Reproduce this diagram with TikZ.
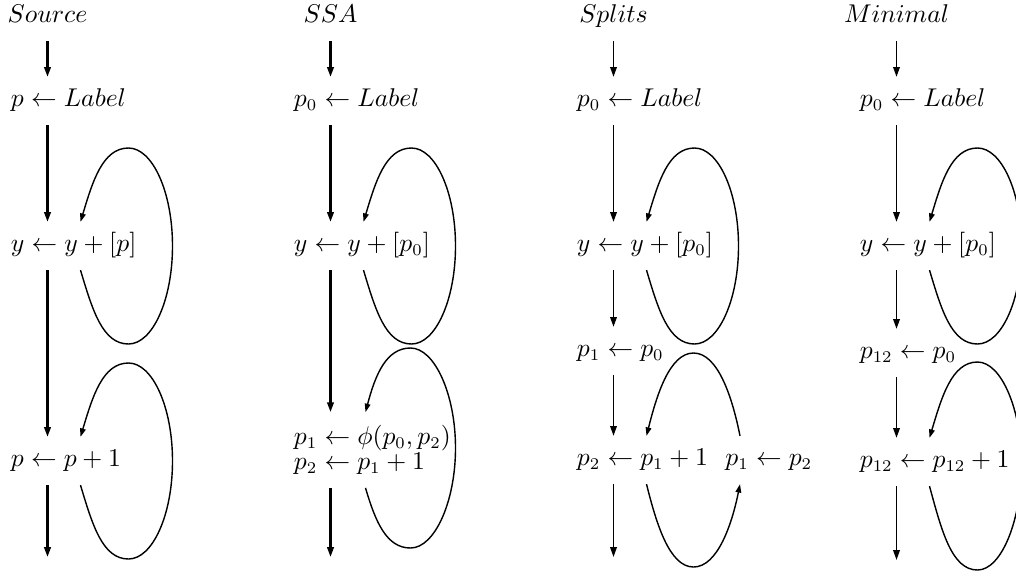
\documentclass[tikz,border=0pt]{standalone}
\usepackage{amsmath}
\usetikzlibrary{positioning,calc,arrows.meta}

\begin{document}
\begin{tikzpicture}[x=0.015cm,y=0.015cm]
        \tikzset{
            stmt/.style={anchor=west, inner sep=0pt, outer ysep=5.8pt, text height=7pt, text depth=2pt, font=\fontsize{10.5}{12.6}\selectfont},
            block/.style={anchor=west, inner sep=0pt, outer ysep=5.8pt, align=left, font=\fontsize{10.5}{12.6}\selectfont},
            title/.style={inner sep=0pt, outer ysep=5.8pt, text height=7pt, text depth=2pt, font=\fontsize{10.5}{12.6}\selectfont},
            flow/.style={-{Triangle[length=4.2pt,width=2.8pt]}, line width=0.9pt},
            thinflow/.style={flow, line width=0.7pt},
            back/.style={-{Triangle[length=3.6pt,width=2.4pt]}, line width=0.6pt}
        }
        \useasboundingbox (0,0) rectangle (1016,-571);
        % Source
        \node[title] (s0) at (47.5,-17) {$Source$};
        \node[stmt] (s1) at (10.5,-101) {$p \leftarrow Label$};
        \node[stmt] (s2) at (10.5,-246) {$y \leftarrow y+[p]$};
        \node[stmt] (s3) at (10.5,-461) {$p \leftarrow p+1$};
        \coordinate (s4) at (47.5,-557);
        \draw[flow] (s0.south) -- (s1.north -| s0);
        \draw[flow] (s1.south -| s0) -- (s2.north -| s0);
        \draw[flow] (s2.south -| s0) -- (s3.north -| s0);
        \draw[flow] (s3.south -| s0) -- (s4);
        \draw[back] ($(s2.south -| s0)+(33,0)$) .. controls +(12,-40) and +(-26,0) .. ($(s2.west -| s0)+(81,-98)$) .. controls +(24,0) and +(0,-54) .. ($(s2.west -| s0)+(125,0)$) .. controls +(0,54) and +(24,0) .. ($(s2.west -| s0)+(81,98)$) .. controls +(-26,0) and +(12,40) .. ($(s2.north -| s0)+(33,0)$);
        \draw[back] ($(s3.south -| s0)+(33,0)$) .. controls +(12,-40) and +(-26,0) .. ($(s3.west -| s0)+(81,-98)$) .. controls +(24,0) and +(0,-54) .. ($(s3.west -| s0)+(125,0)$) .. controls +(0,54) and +(24,0) .. ($(s3.west -| s0)+(81,98)$) .. controls +(-26,0) and +(12,40) .. ($(s3.north -| s0)+(33,0)$);
        % SSA
        \node[title] (a0) at (330.5,-17) {$SSA$};
        \node[stmt] (a1) at (293.5,-101) {$p_0 \leftarrow Label$};
        \node[stmt] (a2) at (293.5,-246) {$y \leftarrow y+[p_0]$};
        \node[block] (a3) at (293.5,-450) {$p_1 \leftarrow \phi(p_0,p_2)$\\[-2.2pt]$p_2 \leftarrow p_1+1$};
        \coordinate (a4) at (330.5,-557);
        \draw[flow] (a0.south) -- (a1.north -| a0);
        \draw[flow] (a1.south -| a0) -- (a2.north -| a0);
        \draw[flow] (a2.south -| a0) -- (a3.north -| a0);
        \draw[flow] (a3.south -| a0) -- (a4);
        \draw[back] ($(a2.south -| a0)+(33,0)$) .. controls +(12,-40) and +(-26,0) .. ($(a2.west -| a0)+(81,-98)$) .. controls +(24,0) and +(0,-54) .. ($(a2.west -| a0)+(125,0)$) .. controls +(0,54) and +(24,0) .. ($(a2.west -| a0)+(81,98)$) .. controls +(-26,0) and +(12,40) .. ($(a2.north -| a0)+(33,0)$);
        \draw[back] ($(a3.south -| a0)+(35,0)$) .. controls +(10,-34) and +(-24,0) .. ($(a3.west -| a0)+(80,-98)$) .. controls +(24,0) and +(0,-54) .. ($(a3.west -| a0)+(125,2)$) .. controls +(0,54) and +(24,0) .. ($(a3.west -| a0)+(80,102)$) .. controls +(-24,0) and +(10,38) .. ($(a3.north -| a0)+(35,0)$);
        % Splits
        \node[title] (t0) at (613.5,-17) {$Splits$};
        \node[stmt] (t1) at (576.5,-101) {$p_0 \leftarrow Label$};
        \node[stmt] (t2) at (576.5,-246) {$y \leftarrow y+[p_0]$};
        \node[stmt] (t3) at (576.5,-351) {$p_1 \leftarrow p_0$};
        \node[stmt] (t4) at (576.5,-460) {$p_2 \leftarrow p_1+1$};
        \node[stmt] (q) at (725,-460) {$p_1 \leftarrow p_2$};
        \coordinate (t5) at (613.5,-557);
        \draw[thinflow] (t0.south) -- (t1.north -| t0);
        \draw[thinflow] (t1.south -| t0) -- (t2.north -| t0);
        \draw[thinflow] (t2.south -| t0) -- (t3.north -| t0);
        \draw[thinflow] (t3.south -| t0) -- (t4.north -| t0);
        \draw[thinflow] (t4.south -| t0) -- (t5);
        \draw[back] ($(t2.south -| t0)+(33,0)$) .. controls +(12,-40) and +(-26,0) .. ($(t2.west -| t0)+(81,-98)$) .. controls +(24,0) and +(0,-54) .. ($(t2.west -| t0)+(125,0)$) .. controls +(0,54) and +(24,0) .. ($(t2.west -| t0)+(81,98)$) .. controls +(-26,0) and +(12,40) .. ($(t2.north -| t0)+(33,0)$);
        \draw[back] ($(q.north west)+(15,0)$) .. controls +(-8,40) and +(24,0) .. ($(t4.west -| t0)+(80,107)$) .. controls +(-24,0) and +(10,40) .. ($(t4.north -| t0)+(33,0)$);
        \draw[back] ($(t4.south -| t0)+(33,0)$) .. controls +(10,-40) and +(-24,0) .. ($(t4.west -| t0)+(80,-107)$) .. controls +(24,0) and +(-8,-40) .. ($(q.south west)+(15,0)$);
        % Minimal
        \node[title] (m0) at (896.5,-17) {$Minimal$};
        \node[stmt] (m1) at (859.5,-101) {$p_0 \leftarrow Label$};
        \node[stmt] (m2) at (859.5,-246) {$y \leftarrow y+[p_0]$};
        \node[stmt] (m3) at (859.5,-353) {$p_{12} \leftarrow p_0$};
        \node[stmt] (m4) at (859.5,-462) {$p_{12} \leftarrow p_{12}+1$};
        \coordinate (m5) at (896.5,-560);
        \draw[thinflow] (m0.south) -- (m1.north -| m0);
        \draw[thinflow] (m1.south -| m0) -- (m2.north -| m0);
        \draw[thinflow] (m2.south -| m0) -- (m3.north -| m0);
        \draw[thinflow] (m3.south -| m0) -- (m4.north -| m0);
        \draw[thinflow] (m4.south -| m0) -- (m5);
        \draw[back] ($(m2.south -| m0)+(33,0)$) .. controls +(12,-40) and +(-26,0) .. ($(m2.west -| m0)+(81,-98)$) .. controls +(24,0) and +(0,-54) .. ($(m2.west -| m0)+(125,0)$) .. controls +(0,54) and +(24,0) .. ($(m2.west -| m0)+(81,98)$) .. controls +(-26,0) and +(12,40) .. ($(m2.north -| m0)+(33,0)$);
        \draw[back] ($(m4.south -| m0)+(33,0)$) .. controls +(12,-44) and +(-26,0) .. ($(m4.west -| m0)+(81,-108)$) .. controls +(24,0) and +(0,-56) .. ($(m4.west -| m0)+(125,-2)$) .. controls +(0,54) and +(24,0) .. ($(m4.west -| m0)+(81,100)$) .. controls +(-26,0) and +(12,40) .. ($(m4.north -| m0)+(33,0)$);
\end{tikzpicture}
\end{document}
